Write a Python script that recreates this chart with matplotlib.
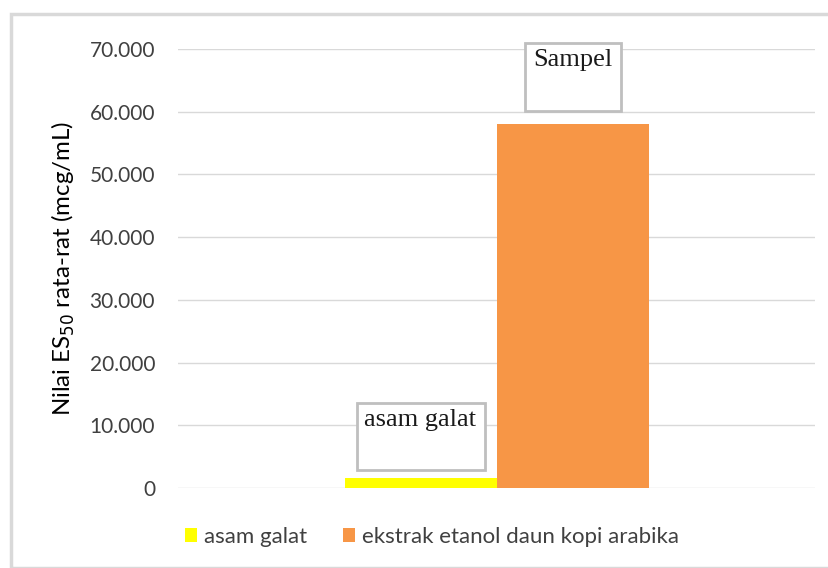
import matplotlib.pyplot as plt
from matplotlib.patches import Rectangle

# -----------------------------
# Data
# -----------------------------
series = ["asam galat", "ekstrak etanol daun kopi arabika"]
values = [1600, 58000]
colors = ["#FFFF00", "#F79646"]
box_labels = ["asam galat", "Sampel"]
yticks = [0, 10000, 20000, 30000, 40000, 50000, 60000, 70000]


def fmt_id(v):
    # thousands with dot separator, like "70.000"
    return f"{v:,.0f}".replace(",", ".")


plt.rcParams["font.family"] = ["Lato", "DejaVu Sans"]

fig = plt.figure(figsize=(8.29, 5.68), dpi=100)
W, H = 829, 568

# outer light border of the chart area
fig.patches.append(Rectangle((11 / W, 0), 1.2, 1 - 14 / H, transform=fig.transFigure,
                             fill=False, edgecolor="#D9D9D9", linewidth=2.5))

ax = fig.add_axes([178 / W, 1 - 488 / H, (815 - 178) / W, (488 - 49) / H])
ax.set_xlim(-0.5, 0.5)
ax.set_ylim(0, 70000)

bar_w = 152 / 637
xs = [-bar_w / 2, bar_w / 2]
for x, v, c, s in zip(xs, values, colors, series):
    ax.bar(x, v, width=bar_w, color=c, label=s, zorder=3)

ax.set_yticks(yticks)
ax.set_yticklabels([fmt_id(t) for t in yticks], fontsize=15, color="#404040")
ax.tick_params(axis="y", length=0, pad=16.5)
ax.set_xticks([])
ax.grid(axis="y", color="#D9D9D9", linewidth=1, zorder=0)
for sp in ax.spines.values():
    sp.set_visible(False)

ax.set_ylabel("Nilai ES$_{50}$ rata-rat (mcg/mL)", fontsize=17.3, color="#000000")
ax.yaxis.set_label_coords((77 - 178) / 637, 0.5)

# boxed labels above bars
px_x = 1 / 637
px_y = 70000 / 439
box_sizes = [(128, 67, 8), (96, 68, 13)]
for x, v, lab, (bw, bh, gap) in zip(xs, values, box_labels, box_sizes):
    y0 = v + gap * px_y
    ax.add_patch(Rectangle((x - bw / 2 * px_x, y0), bw * px_x, bh * px_y,
                           facecolor="white", edgecolor="#BFBFBF", linewidth=2,
                           zorder=4, clip_on=False))
    ax.text(x, y0 + (bh - 6) * px_y, lab, ha="center", va="top", fontsize=19,
            family="Liberation Serif", color="#1a1a1a", zorder=5)

fig.legend(loc="center", bbox_to_anchor=(432 / W, 1 - 537 / H), ncol=2, frameon=False,
           fontsize=16, handlelength=0.55, handleheight=0.55, handletextpad=0.3,
           columnspacing=1.6, labelcolor="#404040")

fig.savefig("out.png", dpi=100)
